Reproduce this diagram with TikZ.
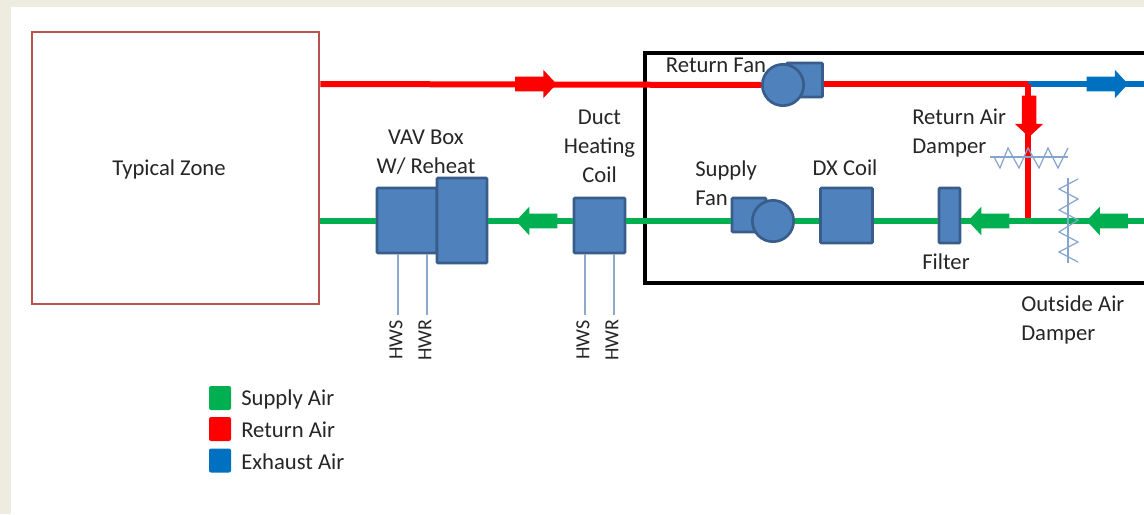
\documentclass[tikz,border=0pt]{standalone}
\usepackage{fontspec}
\setmainfont{Carlito}
\usetikzlibrary{shapes.arrows}
\definecolor{pageBeige}{HTML}{EEECE1}
\definecolor{zoneRed}{HTML}{B9514E}
\definecolor{unitBlue}{HTML}{4F81BD}
\definecolor{unitEdge}{HTML}{385D8A}
\definecolor{pipeBlue}{HTML}{8FA9CC}
\definecolor{damperBlue}{HTML}{86A5CE}
\definecolor{supplyAir}{HTML}{00B050}
\definecolor{returnAir}{HTML}{FF0000}
\definecolor{exhaustAir}{HTML}{0070C0}
\definecolor{labelGrey}{HTML}{262626}
\tikzset{
  size/.style 2 args={minimum width=#1*0.75pt, minimum height=#2*0.75pt},
  unit/.style={draw=unitEdge, fill=unitBlue, line width=2pt, rounded corners=0.8pt, inner sep=0pt},
  wheel/.style={draw=unitEdge, fill=unitBlue, line width=2pt, circle, inner sep=0pt, minimum size=31pt},
  duct/.style={line width=4.5pt},
  flow/.style={single arrow, inner sep=5.25pt, outer sep=0pt, single arrow head indent=0pt,
    single arrow head extend=5.25pt, single arrow tip angle=94, minimum width=21pt, minimum height=31pt},
  pipe/.style={draw=pipeBlue, line width=0.9pt},
  damper/.style={draw=damperBlue, line width=0.9pt},
  label/.style={font=\fontsize{17}{21.75}\selectfont, text=labelGrey, inner sep=0pt},
  key/.style={size={22}{24}, inner sep=0pt, rounded corners=1.5pt}
}
\begin{document}
\begin{tikzpicture}[x=0.75pt, y=-0.75pt]
    \useasboundingbox (0,0) rectangle (1144,514);
    % Fond
    \fill[pageBeige] (0,0) rectangle (1144,514);
    \fill[white] (11,7) rectangle (1144,514);

    % Cadre de la centrale
    \draw[line width=2.3pt, black] (1144,53) -- (645,53) -- (645,283) -- (1144,283);

    % Zone
    \node[draw=zoneRed, line width=2.1pt, size={287}{272}] (zone) at (175.5,168) {};
    \node[label] (zoneLabel) at (169,169) {Typical Zone};

    % Points de passage
    \coordinate (returnEnd) at (1144,84);
    \coordinate (supplyEnd) at (1144,221);
    \coordinate (returnSplit) at (1028,84);
    \coordinate (mixPoint) at (1028,221);

    % Appareils
    \node[unit, size={60}{65}] (vavBody) at (407,220.5) {};
    \node[unit, size={50}{85}] (vavReheat) at (462,220.5) {};
    \node[unit, size={51}{55}] (ductCoil) at (599.5,225.5) {};
    \node[unit, size={36}{34}] (returnFanBox) at (804.5,80) {};
    \node[wheel] (returnFanWheel) at (783,85) {};
    \node[unit, size={34}{34}] (supplyFanBox) at (749,215) {};
    \node[wheel] (supplyFanWheel) at (773,221) {};
    \node[unit, size={52}{55}] (dxCoil) at (846.5,215.5) {};
    \node[unit, size={21}{55}] (filter) at (949.5,215.5) {};

    % Gaines
    \draw[duct, returnAir] (zone.east |- returnEnd) -- (returnFanWheel.west);
    \draw[duct, returnAir] (returnFanBox.east |- returnEnd) -- (returnSplit);
    \draw[duct, exhaustAir] (returnSplit) -- (returnEnd);
    \draw[duct, returnAir] (returnSplit) -- (mixPoint);
    \draw[duct, supplyAir] (supplyEnd) -- (filter.east |- supplyEnd);
    \draw[duct, supplyAir] (filter.west |- supplyEnd) -- (dxCoil.east |- supplyEnd);
    \draw[duct, supplyAir] (dxCoil.west |- supplyEnd) -- (supplyFanWheel.east);
    \draw[duct, supplyAir] (supplyFanBox.west |- supplyEnd) -- (ductCoil.east |- supplyEnd);
    \draw[duct, supplyAir] (ductCoil.west |- supplyEnd) -- (vavReheat.east |- supplyEnd);
    \draw[duct, supplyAir] (vavBody.west |- supplyEnd) -- (zone.east |- supplyEnd);

    % Fleches
    \node[flow, fill=returnAir] (returnArrow) at (532.5,84) {};
    \node[flow, fill=exhaustAir] (exhaustArrow) at (1104,84) {};
    \node[flow, fill=returnAir, shape border rotate=270] (recircArrow) at (1029,113) {};
    \node[flow, fill=supplyAir, shape border rotate=180] (filterArrow) at (992,221) {};
    \node[flow, fill=supplyAir, shape border rotate=180] (outsideArrow) at (1110.5,221) {};
    \node[flow, fill=supplyAir, shape border rotate=180] (vavArrow) at (540,221) {};

    % Registres
    \draw[damper] (990,157) -- (1068,157);
    \draw[damper] (994,157) -- (1000,168) -- (1008,148) -- (1019,168) -- (1028,148)
      -- (1039,168) -- (1048,148) -- (1058,168) -- (1068,148);
    \draw[damper] (1068,178) -- (1068,263);
    \draw[damper] (1078,179) -- (1059,189) -- (1078,199) -- (1059,210) -- (1078,220)
      -- (1059,232) -- (1078,242) -- (1059,252) -- (1078,262);

    % Eau chaude
    \foreach \name/\x/\lab in {vavHws/398/HWS, vavHwr/427/HWR, coilHws/585/HWS, coilHwr/614/HWR} {
      \coordinate (\name) at (\x,315);
      \node[font=\fontsize{15}{16}\selectfont, text=labelGrey, inner sep=0pt, rotate=90] (\name Label) at (\x-2,340) {\lab};
    }
    \draw[pipe] (vavHws) -- (vavHws |- vavBody.south);
    \draw[pipe] (vavHwr) -- (vavHwr |- vavBody.south);
    \draw[pipe] (coilHws) -- (coilHws |- ductCoil.south);
    \draw[pipe] (coilHwr) -- (coilHwr |- ductCoil.south);

    % Textes
    \node[label, align=center] (vavLabel) at (426,152.5) {VAV Box\\W/ Reheat};
    \node[label, align=center] (coilLabel) at (599.5,146) {Duct\\Heating\\Coil};
    \node[label] (returnFanLabel) at (716,65.5) {Return Fan};
    \node[label, align=left, anchor=west] (supplyFanLabel) at (695,183) {Supply\\Fan};
    \node[label] (dxLabel) at (845,168) {DX Coil};
    \node[label, align=left, anchor=west] (returnDamperLabel) at (912,133) {Return Air\\Damper};
    \node[label] (filterLabel) at (946,262) {Filter};
    \node[label, align=left, anchor=west] (outsideDamperLabel) at (1021,319.5) {Outside Air\\Damper};

    % Legende
    \node[key, fill=supplyAir] (supplyKey) at (220,398) {};
    \node[key, fill=returnAir] (returnKey) at (220,429) {};
    \node[key, fill=exhaustAir] (exhaustKey) at (220,460.5) {};
    \node[label, anchor=west] (supplyText) at (241,399) {Supply Air};
    \node[label, anchor=west] (returnText) at (241,430) {Return Air};
    \node[label, anchor=west] (exhaustText) at (241,462) {Exhaust Air};
  \end{tikzpicture}
\end{document}
